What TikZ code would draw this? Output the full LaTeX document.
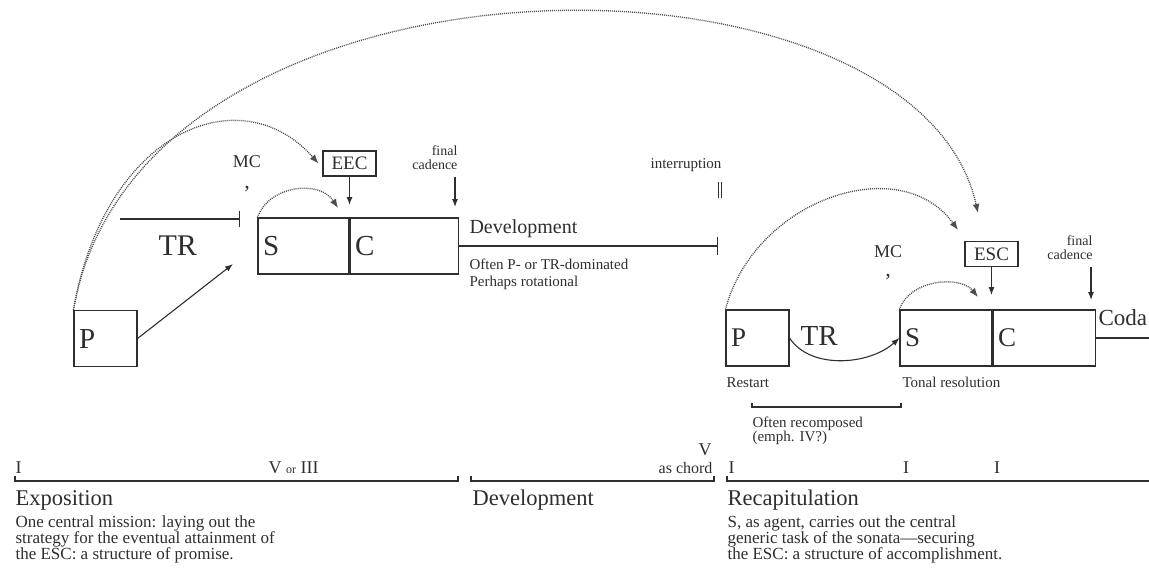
\documentclass[tikz,border=0pt]{standalone}
\usepackage{fontspec}
\setmainfont{Liberation Serif}
\usetikzlibrary{arrows.meta}
\newcommand{\fsz}[1]{\fontsize{#1}{#1}\selectfont}

\begin{document}
\begin{tikzpicture}[x=1pt,y=-1pt,color=black!82,line width=1.1pt,
  every node/.style={inner sep=0pt},
  box/.style={draw, inner xsep=5pt, inner ysep=0pt, minimum height=56pt, align=left},
  tag/.style={draw, minimum width=53pt, minimum height=25pt, font=\fsz{19}},
  arr/.style={-{Latex[length=8pt,width=6pt]}},
  dotarc/.style={black!70, line width=1.3pt, dash pattern=on 1pt off 1pt, -{Latex[length=9pt,width=7pt]}},
  txt/.style={anchor=base west, font=\fsz{15}}]
\useasboundingbox (0,0) rectangle (1149,574);

\node[box, text width=53pt, font=\fsz{29}] (ep) at (105.5,338.5) {P};
\node[box, text width=81pt, font=\fsz{29}] (es) at (303.5,246) {S};
\node[box, text width=98pt, font=\fsz{29}, anchor=west] (ec) at (es.east) {C};
\node[anchor=base west, font=\fsz{30}] (etr) at (158,255) {TR};
\node[anchor=base, font=\fsz{18}] (emc) at (247,167) {MC};
\node[anchor=base, font=\fsz{22}] (ecm) at (247,188) {,};
\node[tag] (eec) at (349.5,163.5) {EEC};
\node[anchor=base east, font=\fsz{14}] (efin) at (458,155) {final};
\node[anchor=base east, font=\fsz{14}] (efc) at (458,169) {cadence};
\coordinate (eect) at (349.5,205);
\coordinate (efct) at (455,207);
\coordinate (trbeg) at (120,219);
\coordinate (mcx) at (240,219);
\coordinate (mcin) at (233,264);
\coordinate (esarc) at (338,208);

\draw[-{Bar[width=16pt]}] (trbeg) -- (mcx);
\draw[arr] (ep.east) -- (mcin);
\draw[arr] (eec) -- (eect);
\draw[arr, shorten <=7pt] (efc.south east -| efct) -- (efct);
\draw[dotarc] (es.north west) .. controls ++(12,-33) and ++(-18,-28) .. (esarc);
\draw[dotarc] (ep.north west) .. controls ++(31,-179) and ++(-78,-88) .. ([xshift=-4pt]eec.west);

\node[anchor=base west, font=\fsz{20}] (devh) at (469,233) {Development};
\node[txt] (dev1) at (469,269) {Often P- or TR-dominated};
\node[txt] (dev2) at (469,286) {Perhaps rotational};
\node[anchor=base east, font=\fsz{15}] (intr) at (722,168) {interruption};
\coordinate (devend) at (718,246);
\draw[-{Bar[width=18pt]}] (ec.east) -- (devend);
\draw (718.5,182) -- (718.5,198) (721.5,182) -- (721.5,198);

\node[box, text width=53pt, font=\fsz{27}] (rp) at (757.5,338) {P};
\node[box, text width=82pt, font=\fsz{27}] (rs) at (946,338) {S};
\node[box, text width=92pt, font=\fsz{27}, anchor=west] (rc) at (rs.east) {C};
\node[anchor=base west, font=\fsz{29}] (rtr) at (800,345) {TR};
\node[anchor=base, font=\fsz{18}] (rmc) at (888,257) {MC};
\node[anchor=base, font=\fsz{22}] (rcm) at (888,276) {,};
\node[tag] (esc) at (991.5,254) {ESC};
\node[anchor=base east, font=\fsz{14}] (rfin) at (1093,245) {final};
\node[anchor=base east, font=\fsz{14}] (rfc) at (1093,259) {cadence};
\node[anchor=base west, font=\fsz{23}] (coda) at (1098,325) {Coda};
\node[txt] (rst) at (726,387) {Restart};
\node[txt] (ton) at (902,387) {Tonal resolution};
\node[txt] (rec1) at (752,427) {Often recomposed};
\node[txt] (rec2) at (752,441) {(emph. IV?)};
\coordinate (esct) at (991.5,295);
\coordinate (rfct) at (1091,300);
\coordinate (codaend) at (1149,338);
\coordinate (rtip) at (958,230);
\coordinate (rsarc) at (978,297);
\coordinate (bigtip) at (978,213);

\draw[arr] (esc) -- (esct);
\draw[arr, shorten <=7pt] (rfc.south east -| rfct) -- (rfct);
\draw (rc.east) -- (codaend);
\draw[arr] (rp.east) .. controls ++(21,32) and ++(-30,27) .. (rs.west);
\draw[dotarc] (rs.north west) .. controls ++(10,-30) and ++(-18,-22) .. (rsarc);
\draw[dotarc] (rp.north west) .. controls ++(29,-110) and ++(-58,-80) .. (rtip);
\draw[dotarc] (ep.north west) .. controls ++(66,-380) and ++(-63,-283) .. (bigtip);
\draw (752,403) -- (752,407) -- (901,407) -- (901,403);

\node[anchor=base west, font=\fsz{18}] (ki1) at (15,473) {I};
\node[anchor=base west, font=\fsz{18}] (kv) at (268,473) {V {\fsz{12}or} III};
\node[anchor=base, font=\fsz{18}] (kv2) at (705,455) {V};
\node[anchor=base east, font=\fsz{16}] (kch) at (713,473) {as chord};
\node[anchor=base west, font=\fsz{18}] (ki2) at (728,473) {I};
\node[anchor=base, font=\fsz{18}] (ki3) at (906,473) {I};
\node[anchor=base, font=\fsz{18}] (ki4) at (997,473) {I};
\draw (15,476) -- (15,481) -- (458,481) -- (458,476);
\draw (471,476) -- (471,481) -- (714,481) -- (714,476);
\draw (727,476) -- (727,481) -- (1149,481);

\node[anchor=base west, font=\fsz{22.5}] (hx) at (15,505) {Exposition};
\node[anchor=base west, font=\fsz{22.5}] (hd) at (472,505) {Development};
\node[anchor=base west, font=\fsz{22.5}] (hr) at (727,505) {Recapitulation};
\node[txt, font=\fsz{17}] (x1) at (15,527) {One central mission: laying out the};
\node[txt, font=\fsz{17}] (x2) at (15,543) {strategy for the eventual attainment of};
\node[txt, font=\fsz{17}] (x3) at (15,559) {the ESC: a structure of promise.};
\node[txt, font=\fsz{17}] (r1) at (727,527) {S, as agent, carries out the central};
\node[txt, font=\fsz{17}] (r2) at (727,543) {generic task of the sonata---securing};
\node[txt, font=\fsz{17}] (r3) at (727,559) {the ESC: a structure of accomplishment.};
\end{tikzpicture}
\end{document}
